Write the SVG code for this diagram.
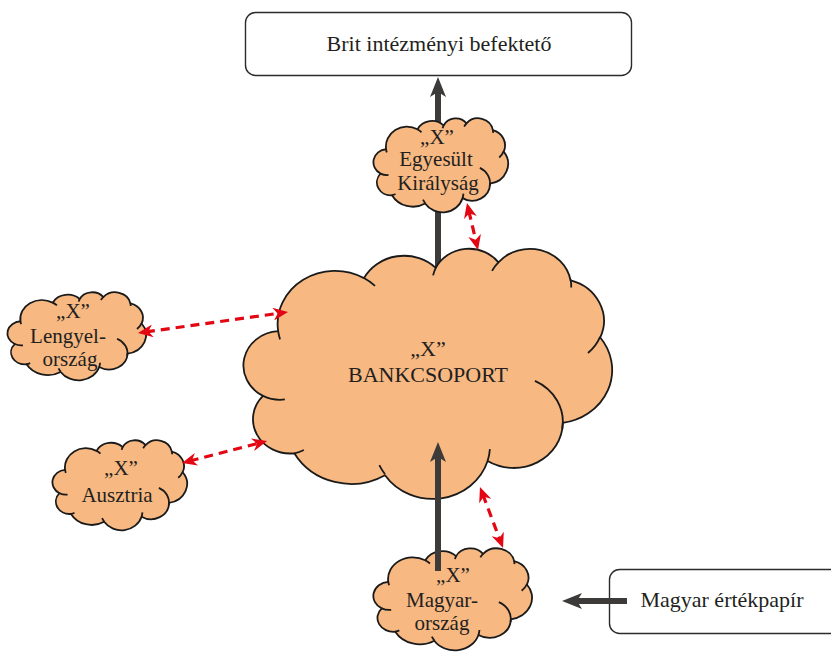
<svg xmlns="http://www.w3.org/2000/svg" xmlns:xlink="http://www.w3.org/1999/xlink" width="831" height="652" viewBox="0 0 831 652">
<style>
.cloud{fill:#f7b882;stroke:#1a1a1a;stroke-width:1.8;vector-effect:non-scaling-stroke;stroke-linejoin:round}
.inner{fill:none;stroke:#1a1a1a;stroke-width:1.8;vector-effect:non-scaling-stroke}
.box{fill:#fff;stroke:#2b2b2b;stroke-width:1.4}
text{font-family:"Liberation Serif","Times New Roman",serif;font-size:22px;fill:#231f20;text-anchor:middle}
.sm{font-size:21px}
.dark{stroke:#3d3b3a;stroke-width:6;fill:none;marker-end:url(#ah)}
.red{stroke:#e30613;stroke-width:3.2;fill:none;stroke-dasharray:9 6;marker-start:url(#rh);marker-end:url(#rh)}
</style>
<defs>
<marker id="ah" viewBox="0 -8 20 16" markerWidth="20" markerHeight="16" refX="8" refY="0" markerUnits="userSpaceOnUse" orient="auto">
<path d="M20,0 L0,-8 L5,0 L0,8 Z" fill="#3d3b3a"/>
</marker>
<marker id="rh" viewBox="0 -6.5 15 13" markerWidth="15" markerHeight="13" refX="7" refY="0" markerUnits="userSpaceOnUse" orient="auto-start-reverse">
<path d="M15,0 L0,-6.5 L4.5,0 L0,6.5 Z" fill="#e30613"/>
</marker>
<g id="cloudShape">
<path class="cloud" d="M 9.03 33.26 A 15.63 21.27 0 0 1 32.42 12.04 A 12.34 16.82 0 0 1 51.98 7.94 A 10.10 13.76 0 0 1 69.06 5.74 A 11.24 15.27 0 0 1 88.70 12.91 A 12.34 16.84 0 0 1 96.80 35.79 A 15.68 21.34 0 0 1 86.59 69.91 A 13.39 18.21 0 0 1 66.10 85.22 A 15.63 21.33 0 0 1 38.15 90.89 A 17.87 24.41 0 0 1 13.44 82.11 A 10.09 13.70 0 0 1 4.90 59.14 A 10.06 13.76 0 0 1 9.03 33.26 Z"/>
<path class="inner" d="M 10.86 60.59 A 10.06 13.76 0 0 1 4.90 59.14 M 16.04 80.79 A 10.09 13.70 0 0 1 13.44 82.11 M 38.14 90.49 A 15.63 21.33 0 0 1 36.60 86.86 M 66.73 80.44 A 15.63 21.33 0 0 1 66.10 85.22 M 79.00 53.13 A 13.39 18.21 0 0 1 86.44 72.41 M 96.75 35.54 A 12.34 16.84 0 0 1 93.45 41.98 M 88.71 12.56 A 11.24 15.27 0 0 1 88.88 15.83 M 67.31 9.15 A 11.24 15.27 0 0 1 69.06 5.74 M 51.25 10.93 A 10.10 13.76 0 0 1 51.98 7.94 M 32.41 12.02 A 15.63 21.27 0 0 1 35.43 15.16 M 9.55 36.55 A 15.63 21.27 0 0 1 9.03 33.26"/>
</g>
</defs>

<g id="connectors-back">
<line class="dark" x1="438" y1="275" x2="438" y2="89"/>
</g>

<g id="brit">
<rect class="box" x="245.5" y="12.5" width="386" height="63" rx="10"/>
<text x="439" y="51">Brit intézményi befektető</text>
</g>

<g id="magyar-ertekpapir">
<rect class="box" x="609.5" y="569.5" width="240" height="64" rx="10"/>
<text x="722" y="607">Magyar értékpapír</text>
</g>

<g id="bankcsoport">
<use xlink:href="#cloudShape" transform="translate(245,248) scale(3.67,2.5)"/>
<text x="428" y="356">„X”</text>
<text x="428" y="382">BANKCSOPORT</text>
</g>

<g id="egyesult-kiralysag">
<use xlink:href="#cloudShape" transform="translate(374,118) scale(1.34,0.94)"/>
<text class="sm" x="437" y="144">„X”</text>
<text class="sm" x="436" y="166">Egyesült</text>
<text class="sm" x="438" y="190">Királyság</text>
</g>

<g id="lengyelorszag">
<use xlink:href="#cloudShape" transform="translate(8,292) scale(1.38,0.88)"/>
<text class="sm" x="73" y="318">„X”</text>
<text class="sm" x="68" y="343">Lengyel-</text>
<text class="sm" x="70" y="366">ország</text>
</g>

<g id="ausztria">
<use xlink:href="#cloudShape" transform="translate(53,440) scale(1.34,0.9)"/>
<text class="sm" x="121" y="475">„X”</text>
<text class="sm" x="117" y="502">Ausztria</text>
</g>

<g id="magyarorszag">
<use xlink:href="#cloudShape" transform="translate(374,548) scale(1.58,1.02)"/>
<text class="sm" x="453" y="582">„X”</text>
<text class="sm" x="442" y="607">Magyar-</text>
<text class="sm" x="442" y="630">ország</text>
</g>

<g id="connectors">
<line class="red" x1="468.8" y1="210.8" x2="476.2" y2="242.2"/>
<line class="red" x1="145.9" y1="331.9" x2="280.1" y2="313.1"/>
<line class="red" x1="189.7" y1="461" x2="259.3" y2="443"/>
<line class="red" x1="482.8" y1="494.5" x2="500.2" y2="540.5"/>
<line class="dark" x1="438" y1="571" x2="438" y2="454"/>
<line class="dark" x1="627" y1="601" x2="574" y2="601"/>
</g>
</svg>
